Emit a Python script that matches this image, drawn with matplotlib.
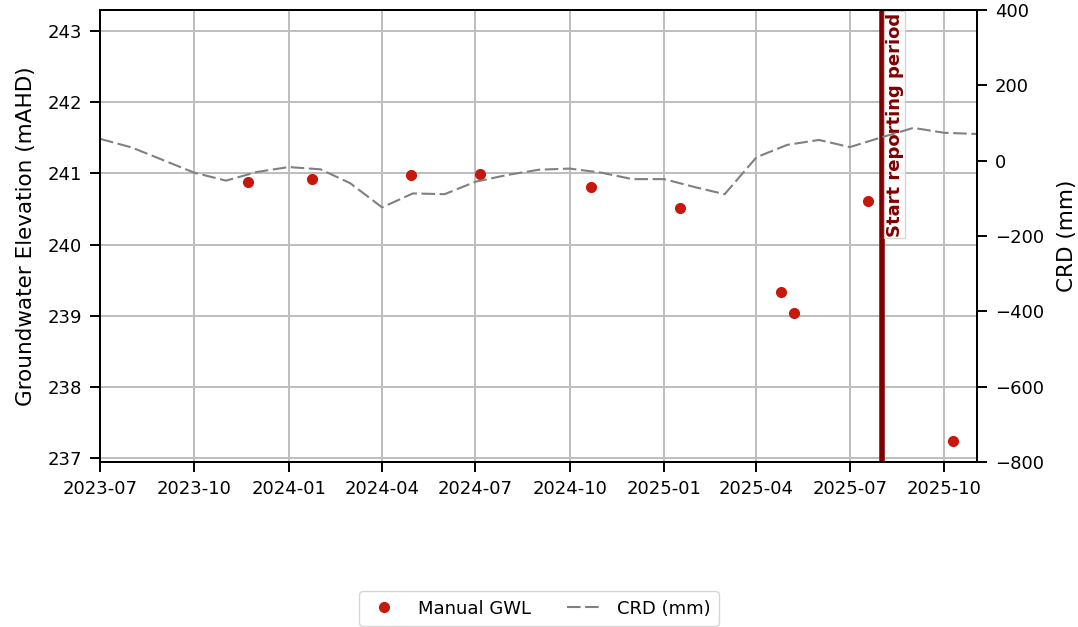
import matplotlib
matplotlib.use("Agg")
import matplotlib.pyplot as plt
import matplotlib.dates as mdates
import pandas as pd

gwl_dates = ["2023-11-22", "2024-01-24", "2024-04-29", "2024-07-05", "2024-10-22",
             "2025-01-16", "2025-04-25", "2025-05-08", "2025-07-19", "2025-10-10"]
gwl_values = [240.88, 240.92, 240.98, 240.99, 240.81, 240.51, 239.33, 239.04, 240.61, 237.24]

crd_dates = ["2023-07-01", "2023-08-01", "2023-09-01", "2023-10-01", "2023-11-01", "2023-12-01",
             "2024-01-01", "2024-02-01", "2024-03-01", "2024-04-01", "2024-05-01", "2024-06-01",
             "2024-07-01", "2024-08-01", "2024-09-01", "2024-10-01", "2024-11-01", "2024-12-01",
             "2025-01-01", "2025-02-01", "2025-03-01", "2025-04-01", "2025-05-01", "2025-06-01",
             "2025-07-01", "2025-08-01", "2025-09-01", "2025-10-01", "2025-11-01"]
crd_values = [58, 35, 1, -32, -53, -30, -17, -23, -60, -124, -87, -89, -56, -38, -24, -21,
              -32, -49, -49, -71, -89, 9, 42, 55, 36, 62, 87, 74, 71]

report_start = "2025-08-01"
report_label = "Start reporting period"

plt.rcParams['font.family'] = ['DejaVu Sans']
fig = plt.figure(figsize=(10.78, 6.27), dpi=100)
ax = fig.add_axes([100/1078, 1-462/627, 877/1078, 452/627])
ax2 = ax.twinx()

ax.grid(True, color='#bdbdbd', linewidth=1.4, zorder=0)
ax.set_axisbelow(True)

l1, = ax.plot(pd.to_datetime(gwl_dates), gwl_values, 'o', color='#c8170c', markersize=7,
              label='Manual GWL', zorder=3)
l2, = ax2.plot(pd.to_datetime(crd_dates), crd_values, '--', color='gray', linewidth=1.5,
               dashes=(6.5, 2.2), label='CRD (mm)')

rs = pd.Timestamp(report_start)
ax.axvline(rs, color='#800000', linewidth=4, zorder=4)
ax.annotate(report_label, xy=(rs, 1.0), xycoords=('data', 'axes fraction'),
            xytext=(3, -2), textcoords='offset points',
            rotation=90, ha='left', va='top', color='#800000',
            fontsize=13, fontweight='bold', zorder=5,
            bbox=dict(facecolor='white', alpha=0.8, edgecolor='#cccccc', pad=1.0))

ax.set_xlim(pd.Timestamp("2023-07-01"), pd.Timestamp("2025-11-02"))
ax.set_ylim(236.944, 243.295)
ax2.set_ylim(-800, 400)
ax.set_yticks([237, 238, 239, 240, 241, 242, 243])
ax2.set_yticks([-800, -600, -400, -200, 0, 200, 400])
ax.xaxis.set_major_locator(mdates.MonthLocator(bymonth=[1, 4, 7, 10]))
ax.xaxis.set_major_formatter(mdates.DateFormatter('%Y-%m'))

for a in (ax, ax2):
    a.tick_params(labelsize=13, length=7, width=1.4, pad=6)
    for s in a.spines.values():
        s.set_linewidth(1.4)
ax.set_ylabel('Groundwater Elevation (mAHD)', fontsize=15.5, labelpad=8)
ax2.set_ylabel('CRD (mm)', fontsize=15.5, labelpad=9)

fig.legend(handles=[l1, l2], loc='center', bbox_to_anchor=(0.5, 0.0295), ncol=2,
           fontsize=13, columnspacing=2.0, handlelength=1.85, handletextpad=0.95,
           borderpad=0.45)

fig.savefig('out.png', dpi=100)
